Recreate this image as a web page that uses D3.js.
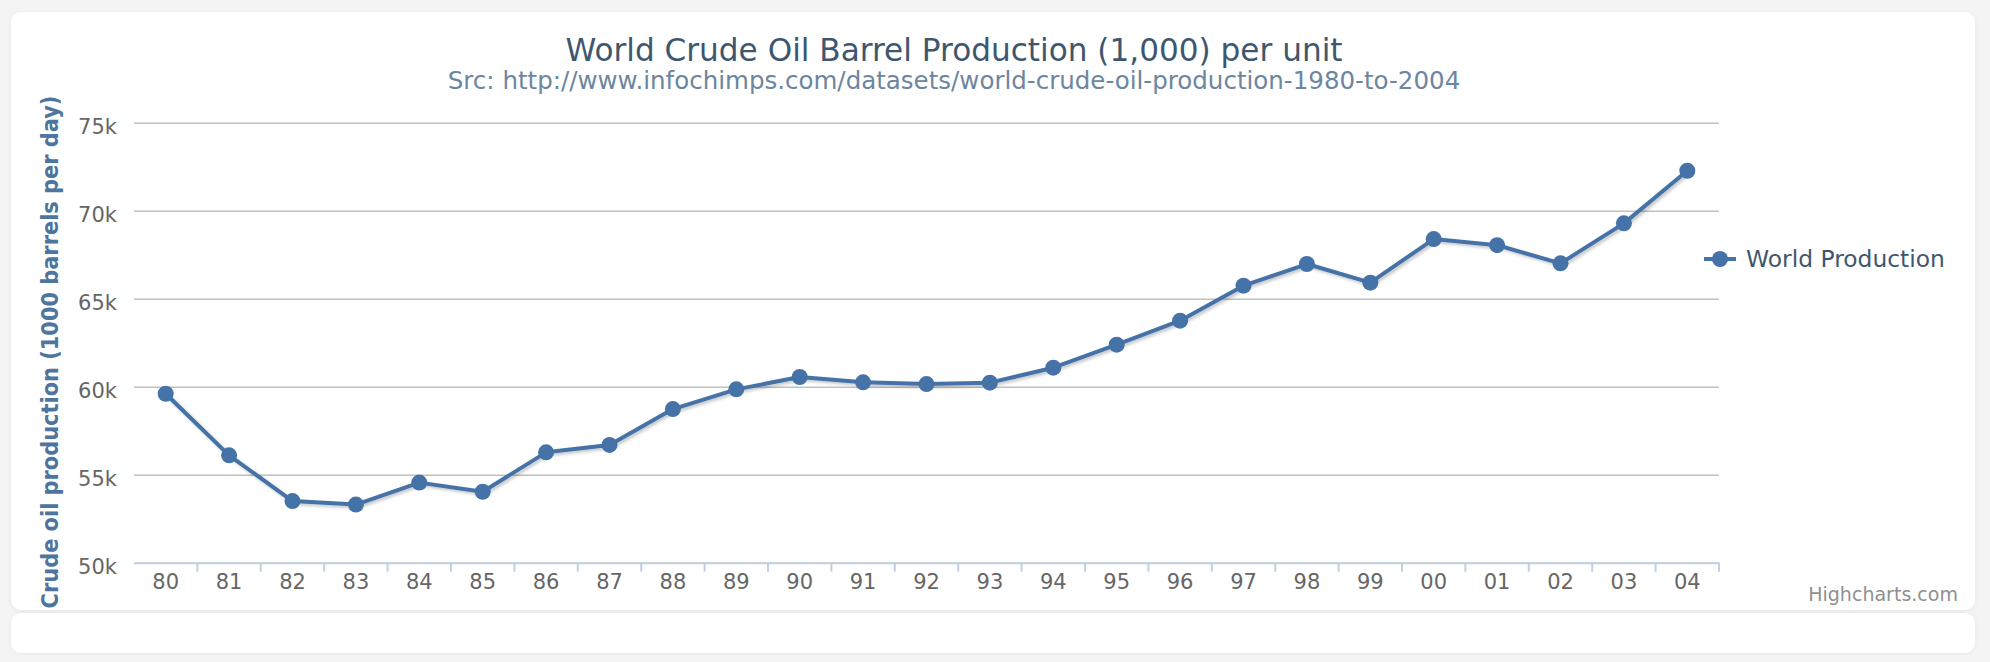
<!DOCTYPE html>
<html lang="en">
<head>
  <meta charset="UTF-8">
  <title>World Crude Oil Production</title>
  <script src="https://cdn.jsdelivr.net/npm/d3@7"></script>
  <style>
    html, body { margin: 0; padding: 0; background: #f4f4f4; }
    svg { display: block; font-family: "DejaVu Sans", sans-serif; }
  </style>
</head>
<body>
  <div id="chart"></div>

  <script>
    // data (1000 barrels per day)
    const years = ['80', '81', '82', '83', '84', '85', '86', '87', '88', '89',
      '90', '91', '92', '93', '94', '95', '96', '97', '98', '99',
      '00', '01', '02', '03', '04'];
    const production = [59600, 56100, 53500, 53300, 54550, 54030, 56270, 56690, 58730, 59850,
      60550, 60250, 60150, 60230, 61080, 62390, 63750, 65740, 66970, 65910,
      68390, 68040, 67010, 69280, 72270];
    const yTicks = [50000, 55000, 60000, 65000, 70000, 75000];
    const seriesName = 'World Production';

    const width = 1990, height = 662;
    const plot = { left: 134, right: 1719, top: 122.7, bottom: 562.7 };
    const blue = '#4572A7';

    const svg = d3.select('#chart')
      .append('svg')
        .attr('width', width)
        .attr('height', height);

    // cards
    const defs = svg.append('defs');
    const cardShadow = defs.append('filter').attr('id', 'cardShadow')
      .attr('x', '-5%').attr('y', '-5%').attr('width', '110%').attr('height', '110%');
    cardShadow.append('feDropShadow')
      .attr('dx', 0).attr('dy', 1).attr('stdDeviation', 2)
      .attr('flood-color', '#000').attr('flood-opacity', 0.06);

    const lineShadow = defs.append('filter').attr('id', 'lineShadow')
      .attr('x', '-5%').attr('y', '-20%').attr('width', '110%').attr('height', '140%');
    lineShadow.append('feDropShadow')
      .attr('dx', 2).attr('dy', 2).attr('stdDeviation', 1.6)
      .attr('flood-color', '#000').attr('flood-opacity', 0.22);

    svg.append('rect')
      .attr('x', 11).attr('y', 12).attr('width', 1964).attr('height', 598)
      .attr('rx', 10).attr('fill', '#fff').attr('filter', 'url(#cardShadow)');
    svg.append('rect')
      .attr('x', 11).attr('y', 613).attr('width', 1964).attr('height', 40)
      .attr('rx', 10).attr('fill', '#fff').attr('filter', 'url(#cardShadow)');

    function fit(sel, target) {
      const w = sel.node().getComputedTextLength();
      const fs = parseFloat(sel.attr('font-size'));
      sel.attr('font-size', (fs * target / w).toFixed(2));
    }

    // titles
    const title = svg.append('text')
      .attr('x', 954).attr('y', 61)
      .attr('text-anchor', 'middle')
      .attr('font-size', 28)
      .attr('fill', '#3E576F')
      .text('World Crude Oil Barrel Production (1,000) per unit');
    fit(title, 777);

    const subtitle = svg.append('text')
      .attr('x', 954).attr('y', 89)
      .attr('text-anchor', 'middle')
      .attr('font-size', 20)
      .attr('fill', '#6D869F')
      .text('Src: http://www.infochimps.com/datasets/world-crude-oil-production-1980-to-2004');
    fit(subtitle, 1013);

    const x = d3.scaleBand()
      .domain(years)
      .range([plot.left, plot.right]);

    const y = d3.scaleLinear()
      .domain([50000, 75000])
      .range([plot.bottom, plot.top]);

    // y grid + labels
    const yAxis = svg.append('g')
      .attr('transform', `translate(${plot.left},0)`)
      .call(d3.axisLeft(y)
        .tickValues(yTicks)
        .tickFormat(d => d / 1000 + 'k')
        .tickSize(-(plot.right - plot.left))
        .tickPadding(17));
    yAxis.select('.domain').remove();
    yAxis.selectAll('.tick line')
      .attr('stroke', '#C0C0C0')
      .attr('stroke-width', 1.5);
    yAxis.selectAll('.tick text')
      .attr('dy', '0.53em')
      .attr('font-size', 21)
      .attr('font-family', '"DejaVu Sans", sans-serif')
      .attr('fill', '#666');

    // x axis
    const xAxis = svg.append('g')
      .attr('transform', `translate(0,${plot.bottom})`)
      .call(d3.axisBottom(x).tickSize(0).tickPadding(8));
    xAxis.select('.domain')
      .attr('stroke', '#C0D0E0')
      .attr('stroke-width', 2);
    xAxis.selectAll('.tick text')
      .attr('dy', '0.88em')
      .attr('font-size', 21)
      .attr('font-family', '"DejaVu Sans", sans-serif')
      .attr('fill', '#666');
    xAxis.selectAll('line.boundary')
      .data(years)
      .join('line')
        .attr('class', 'boundary')
        .attr('x1', d => x(d) + x.bandwidth())
        .attr('x2', d => x(d) + x.bandwidth())
        .attr('y1', 0)
        .attr('y2', 9)
        .attr('stroke', '#C0D0E0')
        .attr('stroke-width', 2);

    // y axis title
    const yTitle = svg.append('text')
      .attr('transform', `translate(58,352) rotate(-90)`)
      .attr('text-anchor', 'middle')
      .attr('font-size', 20)
      .attr('font-weight', 'bold')
      .attr('font-family', '"DejaVu Sans Condensed", "DejaVu Sans", sans-serif')
      .attr('fill', '#4d759e')
      .text('Crude oil production (1000 barrels per day)');
    fit(yTitle, 513);

    // series
    const points = years.map((yr, i) => ({ yr, v: production[i] }));
    const cx = d => x(d.yr) + x.bandwidth() / 2;

    svg.append('path')
      .datum(points)
      .attr('d', d3.line().x(cx).y(d => y(d.v)))
      .attr('fill', 'none')
      .attr('stroke', blue)
      .attr('stroke-width', 4)
      .attr('stroke-linejoin', 'round')
      .attr('filter', 'url(#lineShadow)');

    svg.selectAll('circle.pt')
      .data(points)
      .join('circle')
        .attr('class', 'pt')
        .attr('cx', cx)
        .attr('cy', d => y(d.v))
        .attr('r', 8)
        .attr('fill', blue);

    // legend
    const legend = svg.append('g').attr('transform', 'translate(1704,259)');
    legend.append('line')
      .attr('x1', 0).attr('x2', 32)
      .attr('stroke', blue).attr('stroke-width', 4);
    legend.append('circle')
      .attr('cx', 16).attr('r', 8).attr('fill', blue);
    const legendText = legend.append('text')
      .attr('x', 42).attr('y', 8)
      .attr('font-size', 22)
      .attr('fill', '#3E576F')
      .text(seriesName);
    fit(legendText, 199);

    // credits
    const credits = svg.append('text')
      .attr('x', 1958).attr('y', 601)
      .attr('text-anchor', 'end')
      .attr('font-size', 18)
      .attr('fill', '#909090')
      .text('Highcharts.com');
    fit(credits, 150);
  </script>
</body>
</html>
